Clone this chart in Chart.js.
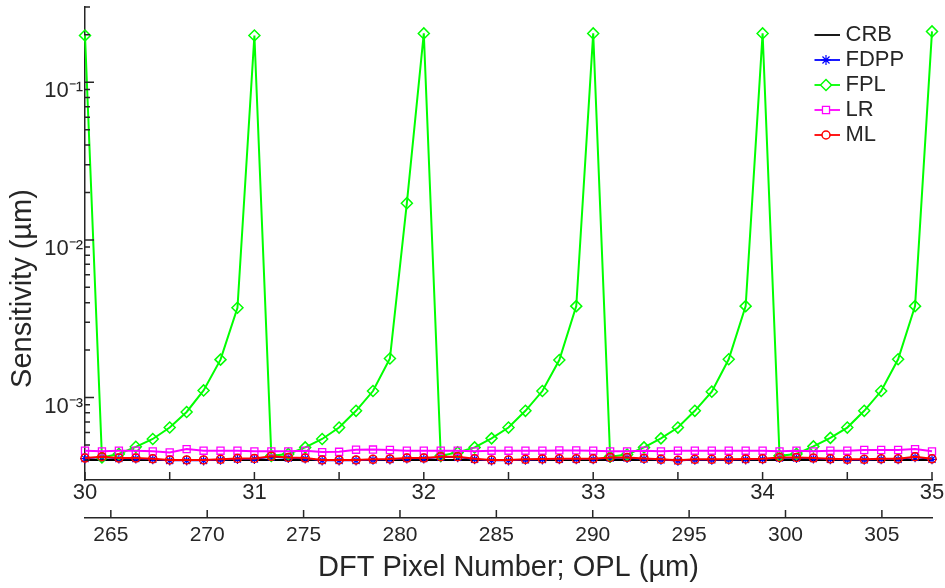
<!DOCTYPE html>
<html>
<head>
<meta charset="utf-8">
<script src="https://cdn.jsdelivr.net/npm/chart.js@4/dist/chart.umd.min.js"></script>
<style>
html,body{margin:0;padding:0;background:#fff;}
#wrap{width:945px;height:588px;}
</style>
</head>
<body>
<div id="wrap"><canvas id="c" width="945" height="588"></canvas></div>
<script>
// ---------------- DATA ----------------
const opl = [30.0,30.1,30.2,30.3,30.4,30.5,30.6,30.7,30.8,30.9,
             31.0,31.1,31.2,31.3,31.4,31.5,31.6,31.7,31.8,31.9,
             32.0,32.1,32.2,32.3,32.4,32.5,32.6,32.7,32.8,32.9,
             33.0,33.1,33.2,33.3,33.4,33.5,33.6,33.7,33.8,33.9,
             34.0,34.1,34.2,34.3,34.4,34.5,34.6,34.7,34.8,34.9,
             35.0];

const crb = [4.02e-4,4.02e-4,4.02e-4,4.02e-4,4.02e-4,4.02e-4,4.02e-4,4.02e-4,4.02e-4,4.02e-4,
             4.02e-4,4.02e-4,4.02e-4,4.02e-4,4.02e-4,4.02e-4,4.02e-4,4.02e-4,4.02e-4,4.02e-4,
             4.02e-4,4.02e-4,4.02e-4,4.02e-4,4.02e-4,4.02e-4,4.02e-4,4.02e-4,4.02e-4,4.02e-4,
             4.02e-4,4.02e-4,4.02e-4,4.02e-4,4.02e-4,4.02e-4,4.02e-4,4.02e-4,4.02e-4,4.02e-4,
             4.02e-4,4.02e-4,4.02e-4,4.02e-4,4.02e-4,4.02e-4,4.02e-4,4.02e-4,4.02e-4,4.02e-4,
             4.02e-4];

const fdpp = [4.10e-4,4.18e-4,4.10e-4,4.10e-4,4.06e-4,3.99e-4,3.99e-4,3.99e-4,4.03e-4,4.08e-4,
              4.08e-4,4.20e-4,4.14e-4,4.10e-4,3.99e-4,3.99e-4,3.99e-4,4.03e-4,4.05e-4,4.10e-4,
              4.10e-4,4.18e-4,4.18e-4,4.06e-4,3.99e-4,3.99e-4,4.03e-4,4.05e-4,4.06e-4,4.06e-4,
              4.06e-4,4.14e-4,4.14e-4,4.08e-4,4.03e-4,3.97e-4,4.03e-4,4.03e-4,4.03e-4,4.05e-4,
              4.06e-4,4.14e-4,4.14e-4,4.10e-4,4.06e-4,4.03e-4,4.03e-4,4.06e-4,4.06e-4,4.18e-4,
              4.06e-4];

const fpl = [0.198,4.17e-4,4.39e-4,4.87e-4,5.46e-4,6.46e-4,8.10e-4,1.11e-3,1.74e-3,3.71e-3,
             0.198,4.27e-4,4.39e-4,4.83e-4,5.46e-4,6.45e-4,8.24e-4,1.10e-3,1.77e-3,1.71e-2,
             0.204,4.27e-4,4.49e-4,4.83e-4,5.51e-4,6.45e-4,8.24e-4,1.10e-3,1.73e-3,3.80e-3,
             0.204,4.22e-4,4.35e-4,4.83e-4,5.51e-4,6.45e-4,8.24e-4,1.09e-3,1.75e-3,3.80e-3,
             0.204,4.27e-4,4.39e-4,4.90e-4,5.55e-4,6.45e-4,8.24e-4,1.10e-3,1.75e-3,3.80e-3,
             0.210];

const lr = [4.60e-4,4.56e-4,4.60e-4,4.60e-4,4.56e-4,4.49e-4,4.71e-4,4.60e-4,4.60e-4,4.60e-4,
            4.56e-4,4.56e-4,4.56e-4,4.60e-4,4.51e-4,4.53e-4,4.67e-4,4.68e-4,4.65e-4,4.60e-4,
            4.60e-4,4.60e-4,4.60e-4,4.56e-4,4.60e-4,4.60e-4,4.60e-4,4.60e-4,4.62e-4,4.62e-4,
            4.60e-4,4.56e-4,4.56e-4,4.60e-4,4.56e-4,4.60e-4,4.60e-4,4.60e-4,4.60e-4,4.60e-4,
            4.60e-4,4.56e-4,4.60e-4,4.56e-4,4.60e-4,4.60e-4,4.65e-4,4.65e-4,4.65e-4,4.71e-4,
            4.56e-4];

const ml = [4.13e-4,4.22e-4,4.13e-4,4.13e-4,4.09e-4,4.02e-4,4.02e-4,4.02e-4,4.06e-4,4.11e-4,
            4.11e-4,4.24e-4,4.17e-4,4.13e-4,4.02e-4,4.02e-4,4.02e-4,4.06e-4,4.08e-4,4.13e-4,
            4.13e-4,4.22e-4,4.22e-4,4.09e-4,4.02e-4,4.02e-4,4.06e-4,4.08e-4,4.09e-4,4.09e-4,
            4.09e-4,4.17e-4,4.17e-4,4.11e-4,4.06e-4,4.00e-4,4.06e-4,4.06e-4,4.06e-4,4.08e-4,
            4.09e-4,4.17e-4,4.17e-4,4.13e-4,4.09e-4,4.06e-4,4.06e-4,4.09e-4,4.09e-4,4.22e-4,
            4.09e-4];

const seriesNames = ['CRB','FDPP','FPL','LR','ML'];

// tick labels / tick positions
const oplTicks = [30,31,32,33,34,35];
const oplTickMarks = [30,30.5,31,31.5,32,32.5,33,33.5,34,34.5,35];
const pixelTicks = [265,270,275,280,285,290,295,300,305];
const pixelRange = [263.66,307.6];
const yTicks = [1e-3,1e-2,1e-1];
const yTickLabels = ['10\u207B\u00B3','10\u207B\u00B2','10\u207B\u00B9'];
const yMinorTicks = [4e-4,5e-4,6e-4,7e-4,8e-4,9e-4,
                     2e-3,3e-3,4e-3,5e-3,6e-3,7e-3,8e-3,9e-3,
                     2e-2,3e-2,4e-2,5e-2,6e-2,7e-2,8e-2,9e-2,
                     2e-1,3e-1];

// ---------------- STYLE ----------------
const AX = '#262626';
const FONT = '"Liberation Sans", Arial, sans-serif';
const styles = {
  CRB:  {color:'#000000', pointStyle:'circle',  radius:0,   bw:2,   pbw:0},
  FDPP: {color:'#0000ff', pointStyle:'star',    radius:5,   bw:1.5, pbw:1.2},
  FPL:  {color:'#00ff00', pointStyle:'rectRot', radius:5.5, bw:2,   pbw:1.5},
  LR:   {color:'#ff00ff', pointStyle:'rect',    radius:5,   bw:2,   pbw:1.3},
  ML:   {color:'#ff0000', pointStyle:'circle',  radius:4,   bw:2,   pbw:1.5}
};
const seriesData = {CRB:crb, FDPP:fdpp, FPL:fpl, LR:lr, ML:ml};

function toXY(arr){ return opl.map((x,i)=>({x:x, y:arr[i]})); }

const datasets = seriesNames.map((name, i) => {
  const s = styles[name];
  return {
    label: name,
    data: toXY(seriesData[name]),
    borderColor: s.color,
    backgroundColor: 'rgba(0,0,0,0)',
    borderWidth: s.bw,
    pointStyle: s.pointStyle,
    pointRadius: s.radius,
    pointHoverRadius: s.radius,
    pointBorderColor: s.color,
    pointBackgroundColor: 'rgba(0,0,0,0)',
    pointBorderWidth: s.pbw,
    tension: 0,
    fill: false,
    clip: false,
    order: seriesNames.length - i
  };
});

// legend sample images (line + marker)
function legendSample(name){
  const s = styles[name];
  const cv = document.createElement('canvas');
  cv.width = 28; cv.height = 14;
  const g = cv.getContext('2d');
  g.strokeStyle = s.color; g.lineWidth = 1.8;
  g.beginPath(); g.moveTo(0,7); g.lineTo(28,7); g.stroke();
  if (s.radius > 0 && Chart.helpers && Chart.helpers.drawPoint) {
    g.fillStyle = '#ffffff';
    g.strokeStyle = s.color;
    g.lineWidth = s.pbw;
    Chart.helpers.drawPoint(g, {pointStyle:s.pointStyle, radius:s.radius, rotation:0, borderWidth:s.pbw}, 14, 7);
  }
  return cv;
}

function noPad(s){ s.paddingTop = 0; s.paddingBottom = 0; s.paddingLeft = 0; s.paddingRight = 0; }

const customPlugin = {
  id: 'customPlugin',
  afterLayout(chart){
    const lg = chart.legend;
    if (lg) {
      lg.left = 814.5; lg.right = lg.left + lg.width;
      lg.top = 21; lg.bottom = lg.top + lg.height;
    }
  },
  afterDatasetsDraw(chart){
    const {ctx, chartArea:ca, scales} = chart;
    const x = scales.x, x2 = scales.x2, y = scales.y;
    ctx.save();
    ctx.strokeStyle = AX; ctx.lineWidth = 1.5;
    ctx.beginPath();
    oplTickMarks.forEach(v => { const p = x.getPixelForValue(v); ctx.moveTo(p, ca.bottom); ctx.lineTo(p, ca.bottom - 8); });
    pixelTicks.forEach(v => { const p = x2.getPixelForValue(v); ctx.moveTo(p, x2.top); ctx.lineTo(p, x2.top - 8); });
    yTicks.forEach(v => { const p = y.getPixelForValue(v); ctx.moveTo(ca.left, p); ctx.lineTo(ca.left + 9, p); });
    yMinorTicks.forEach(v => { const p = y.getPixelForValue(v); ctx.moveTo(ca.left, p); ctx.lineTo(ca.left + 5, p); });
    ctx.stroke();
    // y-axis title
    ctx.translate(23, (ca.top + ca.bottom) / 2 + 45);
    ctx.rotate(-Math.PI / 2);
    ctx.fillStyle = AX;
    ctx.font = '29px ' + FONT;
    ctx.textAlign = 'center';
    ctx.textBaseline = 'middle';
    ctx.fillText('Sensitivity (\u00B5m)', 0, 0);
    ctx.restore();
  }
};

new Chart(document.getElementById('c'), {
  type: 'line',
  data: { datasets: datasets },
  options: {
    responsive: false,
    devicePixelRatio: 1,
    animation: false,
    layout: { padding: { left: 0, top: 5, right: 13, bottom: 0 } },
    plugins: {
      tooltip: { enabled: false },
      legend: {
        display: true,
        position: 'chartArea',
        align: 'start',
        labels: {
          usePointStyle: true,
          pointStyleWidth: 17,
          padding: 3,
          color: AX,
          font: { family: FONT, size: 22 },
          generateLabels: () => seriesNames.map((name, i) => ({
            text: name,
            fillStyle: 'rgba(0,0,0,0)',
            strokeStyle: styles[name].color,
            lineWidth: 0,
            pointStyle: legendSample(name),
            hidden: false,
            datasetIndex: i,
            fontColor: AX
          }))
        }
      }
    },
    scales: {
      x: {
        type: 'linear',
        position: 'bottom',
        weight: 0,
        min: 30, max: 35,
        grid: { display: false, drawTicks: false },
        border: { display: true, color: AX, width: 1.5 },
        afterBuildTicks: (s) => { s.ticks = oplTicks.map(v => ({value: v})); },
        afterFit: (s) => { s.height = 38; noPad(s); },
        ticks: {
          color: AX, padding: 0, maxRotation: 0, autoSkip: false,
          font: { family: FONT, size: 22 },
          callback: (v) => String(v)
        }
      },
      x2: {
        type: 'linear',
        axis: 'x',
        position: 'bottom',
        weight: 1,
        min: pixelRange[0], max: pixelRange[1],
        grid: { display: false, drawTicks: false },
        border: { display: true, color: AX, width: 1.5 },
        afterBuildTicks: (s) => { s.ticks = pixelTicks.map(v => ({value: v})); },
        afterFit: (s) => { s.height = 70; noPad(s); },
        ticks: {
          color: AX, padding: 5, maxRotation: 0, autoSkip: false,
          font: { family: FONT, size: 21 },
          callback: (v) => String(v)
        },
        title: {
          display: true,
          text: 'DFT Pixel Number; OPL (\u00B5m)',
          color: AX,
          font: { family: FONT, size: 29 },
          padding: { top: 0, bottom: 3 }
        }
      },
      y: {
        type: 'logarithmic',
        position: 'left',
        min: 3e-4, max: 0.3,
        grid: { display: false, drawTicks: false },
        border: { display: true, color: AX, width: 1.5 },
        afterBuildTicks: (s) => { s.ticks = yTicks.map(v => ({value: v})); },
        afterFit: (s) => { s.width = 85; noPad(s); },
        ticks: {
          color: AX, padding: 2, autoSkip: false, labelOffset: 9,
          font: { family: FONT, size: 22 },
          callback: (v, i) => yTickLabels[i]
        }
      }
    }
  },
  plugins: [customPlugin]
});
</script>
</body>
</html>
